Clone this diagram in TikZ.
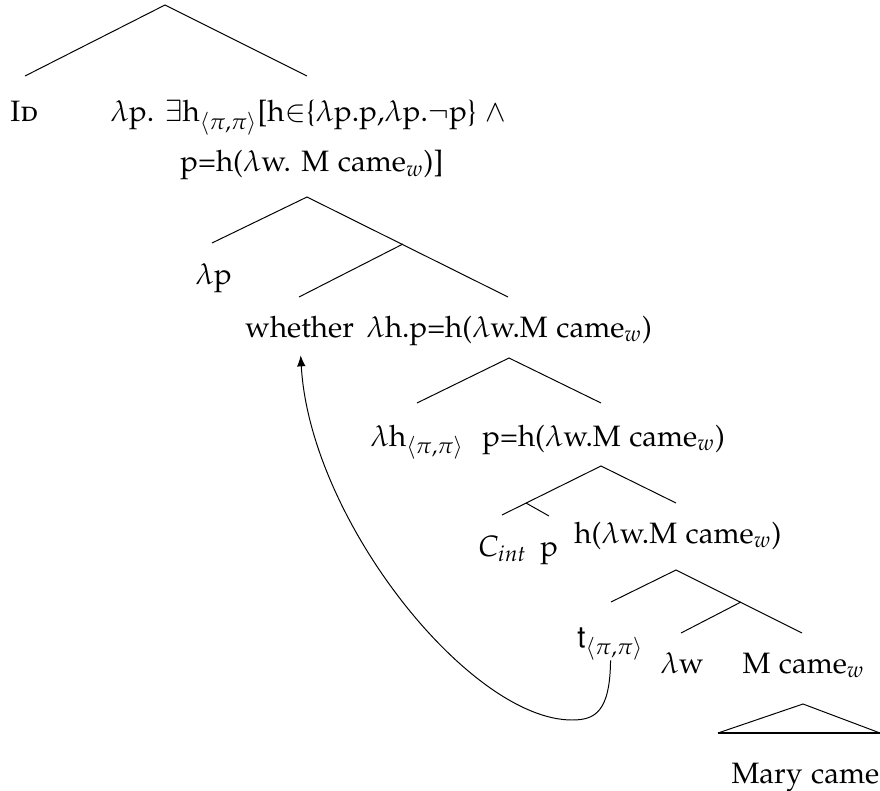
\documentclass[tikz,border=0pt,12pt]{standalone}
\usepackage[T1]{fontenc}
\usepackage[sc]{mathpazo}
\usepackage{amsmath}
\usepackage{tikz}
\usetikzlibrary{arrows.meta}

\tikzset{lbl/.style={anchor=base west,inner sep=0pt}}

\begin{document}
\begin{tikzpicture}[x=0.407pt,y=-0.407pt]
\useasboundingbox (0,0) rectangle (880,791);
% top branching
\coordinate (t1) at (165,5);
\coordinate (t1l) at (25,76);
\coordinate (t1r) at (307,76);
\draw (t1l)--(t1)--(t1r);
\node[lbl] (id) at (10,122) {\textsc{Id}};
\node[lbl] (lamexist) at (110,122) {$\lambda$p. $\exists$h$_{\langle\pi,\pi\rangle}$[h$\in$\{$\lambda$p.p,$\lambda$p.$\neg$p\} $\wedge$};
\node[lbl] (lamexistb) at (180,172) {p=h($\lambda$w. M came$_w$)]};
% whether
\coordinate (t2) at (307,197);
\coordinate (t2l) at (212,243);
\coordinate (t2r) at (508,297);
\coordinate (t2m) at (403,244);
\coordinate (t2ml) at (299,297);
\draw (t2l)--(t2)--(t2r);
\draw (t2m)--(t2ml);
\node[lbl] (lamp) at (195,285) {$\lambda$p};
\node[lbl] (whether) at (245,337) {whether};
\node[lbl] (lamhp) at (366,337) {$\lambda$h.p=h($\lambda$w.M came$_w$)};
% lambda h
\coordinate (t3) at (509,358);
\coordinate (t3l) at (417,403);
\coordinate (t3r) at (601,403);
\draw (t3l)--(t3)--(t3r);
\node[lbl] (lamh) at (370,446) {$\lambda$h$_{\langle\pi,\pi\rangle}$};
\node[lbl] (peq) at (482,446) {p=h($\lambda$w.M came$_w$)};
% C int
\coordinate (t4) at (601,466);
\coordinate (t4l) at (502,515);
\coordinate (t4r) at (676,503);
\coordinate (t4m) at (526,503);
\coordinate (t4ml) at (549,516);
\draw (t4l)--(t4)--(t4r);
\draw (t4m)--(t4ml);
\node[lbl] (cint) at (478,556) {$C_{int}$};
\node[lbl] (pp) at (540,556) {p};
\node[lbl] (happ) at (574,543) {h($\lambda$w.M came$_w$)};
% trace
\coordinate (t5) at (676,570);
\coordinate (t5l) at (611,602);
\coordinate (t5r) at (802,633);
\coordinate (t5m) at (741,602);
\coordinate (t5ml) at (681,633);
\draw (t5l)--(t5)--(t5r);
\draw (t5m)--(t5ml);
\node[lbl] (tr) at (577,647) {{\fontfamily{phv}\selectfont t}$_{\langle\pi,\pi\rangle}$};
\node[lbl] (lamw) at (660,673) {$\lambda$w};
\node[lbl] (mcame) at (742,673) {M came$_w$};
% triangle
\coordinate (tri) at (803,704);
\coordinate (tril) at (718,733);
\coordinate (trir) at (880,733);
\draw (tril)--(tri)--(trir);
\draw[line width=0.8pt] (tril)--(trir);
\node[lbl] (mary) at (731,783) {Mary came};
% movement
\draw[-{Latex[length=4.5pt,width=3.5pt]},shorten >=7pt] (tr.south) .. controls (610,712) and (595,720) .. (572,720)
  .. controls (470,720) and (310,520) .. (whether.south);
\end{tikzpicture}
\end{document}
